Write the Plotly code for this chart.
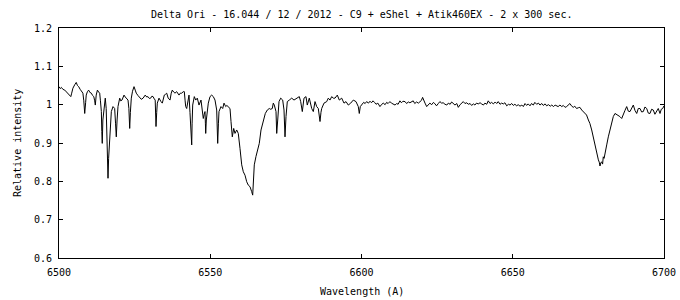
import plotly.graph_objects as go

title_text = "Delta Ori - 16.044 / 12 / 2012 - C9 + eShel + Atik460EX - 2 x 300 sec."
x_title = "Wavelength (A)"
y_title = "Relative intensity"
x_ticks = [6500, 6550, 6600, 6650, 6700]
y_ticks = [0.6, 0.7, 0.8, 0.9, 1.0, 1.1, 1.2]
y_tick_labels = ["0.6", "0.7", "0.8", "0.9", "1", "1.1", "1.2"]

# (wavelength, relative intensity)
spec_blue = [
    (6500.0, 1.047), (6500.4, 1.042), (6500.8, 1.045), (6501.3, 1.040), (6501.9, 1.038),
    (6502.4, 1.034), (6503.0, 1.030), (6503.4, 1.027), (6503.9, 1.021), (6504.2, 1.030),
    (6504.6, 1.043), (6505.2, 1.052), (6505.7, 1.058), (6506.1, 1.050), (6506.5, 1.047),
    (6507.0, 1.040), (6507.4, 1.034), (6507.9, 1.030), (6508.2, 1.010), (6508.5, 0.977),
    (6508.8, 1.005), (6509.0, 1.025), (6509.4, 1.034), (6509.8, 1.038), (6510.2, 1.032),
    (6510.7, 1.030), (6511.1, 1.024), (6511.5, 1.021), (6511.8, 1.010), (6512.0, 0.999),
    (6512.3, 1.025), (6512.7, 1.038), (6513.1, 1.033), (6513.45, 1.030), (6513.7, 1.010),
    (6514.0, 0.982), (6514.15, 0.930), (6514.3, 0.899), (6514.5, 0.960), (6514.9, 0.990),
    (6515.3, 1.017), (6515.6, 0.990), (6515.8, 0.930), (6516.0, 0.903), (6516.2, 0.808),
    (6516.4, 0.860), (6516.8, 0.903), (6517.0, 0.950), (6517.3, 0.982), (6517.85, 0.995),
    (6518.1, 0.993), (6518.4, 0.990), (6518.7, 0.950), (6518.94, 0.916), (6519.2, 0.960),
    (6519.5, 0.995), (6520.07, 1.017), (6520.4, 1.010), (6520.83, 1.012), (6521.2, 1.020),
    (6521.49, 1.025), (6521.9, 1.020), (6522.25, 1.017), (6522.81, 1.012), (6523.1, 0.990),
    (6523.37, 0.938), (6523.6, 0.980), (6523.9, 1.017), (6524.3, 1.035), (6524.8, 1.047),
    (6525.2, 1.038), (6525.55, 1.030), (6526.1, 1.024), (6526.7, 1.017), (6527.2, 1.014),
    (6527.8, 1.017), (6528.2, 1.022), (6528.5, 1.025), (6529.0, 1.020), (6529.4, 1.021),
    (6529.9, 1.016), (6530.3, 1.017), (6530.7, 1.022), (6531.1, 1.021), (6531.5, 1.015),
    (6531.8, 1.012), (6532.0, 0.960), (6532.07, 0.943), (6532.3, 0.980), (6532.5, 1.004),
]

spec_halpha = [
    (6533.06, 1.017), (6533.4, 1.010), (6533.72, 1.008), (6534.15, 1.004), (6534.5, 1.015),
    (6534.81, 1.025), (6535.2, 1.027), (6535.6, 1.030), (6536.1, 1.017), (6536.7, 1.012),
    (6537.1, 1.030), (6537.45, 1.038), (6537.9, 1.033), (6538.35, 1.030), (6538.9, 1.034),
    (6539.3, 1.029), (6539.67, 1.025), (6540.1, 1.030), (6540.56, 1.030), (6541.09, 1.034),
    (6541.42, 1.034), (6541.7, 1.010), (6541.88, 0.995), (6542.21, 0.990), (6542.55, 1.012),
    (6542.98, 1.025), (6543.3, 0.980), (6543.64, 0.921), (6543.87, 0.895), (6544.0, 0.950),
    (6544.2, 0.999), (6544.73, 1.021), (6545.19, 1.012), (6545.72, 1.017), (6546.28, 0.999),
    (6546.94, 1.012), (6547.2, 0.990), (6547.37, 0.973), (6547.7, 0.964), (6548.0, 0.975),
    (6548.26, 0.982), (6548.4, 0.950), (6548.5, 0.925), (6548.7, 0.960), (6548.83, 0.973),
    (6549.36, 1.004), (6549.92, 1.021), (6550.48, 1.025), (6551.01, 1.021), (6551.57, 1.012),
    (6552.13, 0.986), (6552.3, 0.940), (6552.46, 0.899), (6552.7, 0.950), (6552.89, 0.982),
    (6553.55, 0.995), (6554.12, 0.990), (6554.55, 1.004), (6555.11, 0.995), (6555.5, 0.998),
    (6555.97, 0.995), (6556.53, 0.990), (6556.86, 0.956), (6557.29, 0.916), (6557.75, 0.938),
    (6558.18, 0.925), (6558.74, 0.934), (6559.27, 0.925), (6559.83, 0.886), (6560.40, 0.843),
    (6560.93, 0.825), (6561.49, 0.816), (6562.05, 0.799), (6562.58, 0.790), (6563.14, 0.786),
    (6563.5, 0.780), (6563.70, 0.773), (6564.03, 0.764), (6564.23, 0.790), (6564.56, 0.843),
    (6565.12, 0.865), (6565.88, 0.886), (6566.21, 0.899), (6566.78, 0.934), (6567.34, 0.951),
    (6567.77, 0.960), (6568.20, 0.977), (6568.86, 0.986), (6569.52, 0.990), (6569.98, 0.988),
    (6570.51, 0.990), (6570.84, 1.004), (6571.17, 0.999), (6571.74, 0.982), (6571.97, 0.925),
    (6572.30, 0.960), (6572.73, 1.008), (6573.29, 1.017), (6573.95, 1.012), (6574.38, 0.986),
    (6574.71, 0.916), (6575.04, 0.969), (6575.47, 1.008), (6576.13, 1.012), (6576.93, 1.017),
    (6577.69, 1.012), (6578.58, 1.017), (6579.44, 1.021), (6579.90, 1.008), (6580.43, 0.982),
    (6580.99, 1.017), (6581.65, 1.021), (6582.08, 0.999), (6582.74, 1.017), (6583.54, 0.990),
    (6584.07, 0.982), (6584.63, 1.008), (6585.19, 0.995), (6585.72, 0.990), (6586.0, 0.975),
    (6586.28, 0.956), (6586.6, 0.980), (6586.84, 0.990), (6587.60, 1.004), (6588.50, 1.008),
    (6589.02, 1.017), (6589.59, 1.012), (6590.15, 1.021), (6590.68, 1.017), (6591.24, 1.017),
    (6592.00, 1.025), (6592.66, 1.012), (6593.45, 1.017), (6594.21, 1.004), (6594.88, 1.008),
    (6595.64, 0.999), (6596.43, 1.004), (6597.29, 1.012), (6598.18, 1.008), (6598.94, 0.995),
    (6599.27, 0.977), (6599.6, 0.995),
]

spec_red = [
    (6600.2, 1.002), (6600.7, 1.006), (6601.2, 1.003), (6601.7, 1.008), (6602.3, 1.004),
    (6602.8, 1.009), (6603.3, 1.005), (6603.8, 1.010), (6604.3, 1.006), (6604.8, 1.001),
    (6605.4, 1.004), (6605.9, 0.998), (6606.1, 0.995), (6606.7, 1.001), (6607.2, 1.004),
    (6607.8, 1.000), (6608.3, 1.006), (6608.8, 1.003), (6609.4, 1.008), (6609.9, 1.004),
    (6610.4, 1.002), (6611.1, 0.999), (6611.6, 1.003), (6612.1, 1.001), (6612.7, 1.010),
    (6613.2, 1.005), (6613.7, 1.009), (6614.4, 1.008), (6614.9, 1.003), (6615.5, 1.007),
    (6616.0, 1.005), (6616.6, 1.009), (6617.1, 1.010), (6617.6, 1.003), (6618.2, 1.007),
    (6618.8, 1.004), (6619.3, 1.008), (6619.8, 1.011), (6620.2, 1.019), (6620.6, 1.008),
    (6621.0, 1.004), (6621.55, 0.995), (6622.1, 1.001), (6622.6, 1.004), (6623.2, 1.000),
    (6623.8, 1.006), (6624.3, 1.002), (6624.8, 0.997), (6625.4, 1.003), (6625.9, 1.008),
    (6626.5, 1.004), (6627.0, 1.005), (6627.6, 1.001), (6628.2, 0.999), (6628.7, 1.004),
    (6629.3, 1.001), (6629.8, 1.007), (6630.4, 1.002), (6630.9, 0.999), (6631.5, 1.003),
    (6632.0, 0.993), (6632.6, 1.000), (6633.2, 1.006), (6633.65, 1.008), (6634.2, 1.003),
    (6634.8, 1.005), (6635.3, 1.001), (6635.9, 1.003), (6636.4, 0.998), (6637.0, 1.002),
    (6637.5, 0.999), (6638.0, 1.004), (6638.6, 1.002), (6639.2, 1.005), (6639.7, 1.002),
    (6640.3, 0.999), (6640.8, 1.004), (6641.4, 1.001), (6641.9, 1.010), (6642.5, 1.003),
    (6643.0, 1.006), (6643.6, 1.002), (6644.2, 1.007), (6644.7, 1.003), (6645.2, 1.008),
    (6645.8, 1.001), (6646.3, 1.004), (6646.9, 1.002), (6647.4, 1.005), (6648.0, 0.997),
    (6648.6, 1.001), (6649.1, 0.999), (6649.65, 1.003), (6650.2, 0.998), (6650.7, 1.001),
    (6651.3, 0.997), (6651.8, 1.000), (6652.4, 0.996), (6653.0, 0.999), (6653.5, 0.995),
    (6654.05, 1.003), (6654.6, 0.998), (6655.1, 1.002), (6655.7, 0.997), (6656.2, 1.003),
    (6656.8, 0.999), (6657.3, 1.006), (6657.9, 1.001), (6658.5, 1.004), (6659.0, 0.999),
    (6659.6, 1.003), (6660.1, 0.998), (6660.7, 1.002), (6661.2, 0.997), (6661.8, 1.000),
    (6662.4, 0.996), (6662.9, 0.999), (6663.5, 0.995), (6664.0, 0.999), (6664.5, 0.996),
    (6665.0, 0.995), (6665.6, 0.999), (6666.2, 0.995), (6666.7, 0.998), (6667.3, 0.993),
    (6667.8, 0.995), (6668.4, 0.999), (6668.9, 1.003), (6669.4, 0.997), (6670.0, 0.993),
    (6670.5, 0.996), (6671.1, 0.990), (6671.7, 0.992), (6672.2, 0.993), (6672.8, 0.986),
    (6673.3, 0.982), (6673.9, 0.977), (6674.4, 0.973), (6675.0, 0.960), (6675.5, 0.951),
    (6676.1, 0.934), (6676.6, 0.916), (6677.2, 0.895), (6677.75, 0.869), (6678.3, 0.856),
    (6678.6, 0.850), (6678.84, 0.840), (6679.1, 0.848), (6679.4, 0.851), (6679.7, 0.845),
    (6679.93, 0.864), (6680.2, 0.860), (6680.5, 0.877), (6681.06, 0.895), (6681.59, 0.916),
    (6682.15, 0.934), (6682.71, 0.951), (6683.24, 0.969), (6683.80, 0.977), (6684.3, 0.975),
    (6684.89, 0.973), (6685.4, 0.969), (6686.02, 0.964), (6686.55, 0.977), (6687.1, 0.985),
    (6687.67, 0.995), (6688.2, 0.983), (6688.76, 0.982), (6689.3, 0.990), (6689.85, 0.999),
    (6690.4, 0.985), (6690.98, 0.977), (6691.5, 0.990), (6692.07, 0.990), (6692.6, 0.981),
    (6693.16, 0.982), (6693.7, 0.994), (6694.28, 0.990), (6694.8, 0.978), (6695.37, 0.977),
    (6695.9, 0.988), (6696.46, 0.986), (6697.0, 0.975), (6697.59, 0.982), (6698.1, 0.990),
    (6698.68, 0.977), (6699.1, 0.988), (6699.57, 0.990), (6700.0, 0.997),
]

points = spec_blue + spec_halpha + spec_red
wavelength = [p[0] for p in points]
intensity = [p[1] for p in points]

FONT = "DejaVu Sans Mono"
FS = 10

fig = go.Figure()
fig.add_trace(go.Scatter(
    x=wavelength, y=intensity, mode="lines",
    line=dict(color="black", width=1),
    showlegend=False, hoverinfo="skip",
))

axis_common = dict(
    showgrid=False, zeroline=False, automargin=False,
    showline=True, linecolor="black", linewidth=1, mirror="ticks",
    ticks="inside", ticklen=4, tickcolor="black", tickwidth=1,
    tickfont=dict(family=FONT, size=FS, color="black"),
)

fig.update_layout(
    width=680, height=300, autosize=False,
    margin=dict(l=59, r=16, t=28, b=42, autoexpand=False),
    paper_bgcolor="white", plot_bgcolor="white",
    font=dict(family=FONT, size=FS, color="black"),
    xaxis=dict(range=[6500, 6700], tickvals=x_ticks, ticktext=[str(v) for v in x_ticks],
               ticklabelstandoff=5, **axis_common),
    yaxis=dict(range=[0.6, 1.2], tickvals=y_ticks, ticktext=y_tick_labels,
               ticklabelstandoff=4, **axis_common),
    annotations=[
        dict(text=title_text, xref="paper", yref="paper", x=0.5, y=1, yshift=14,
             xanchor="center", yanchor="middle", showarrow=False,
             font=dict(family=FONT, size=FS, color="black")),
        dict(text=x_title, xref="paper", yref="paper", x=0.5, y=0, yshift=-33,
             xanchor="center", yanchor="middle", showarrow=False,
             font=dict(family=FONT, size=FS, color="black")),
        dict(text=y_title, xref="paper", yref="paper", x=0, xshift=-42, y=0.5,
             xanchor="center", yanchor="middle", showarrow=False, textangle=-90,
             font=dict(family=FONT, size=FS, color="black")),
    ],
)

fig.write_html("out.html")
